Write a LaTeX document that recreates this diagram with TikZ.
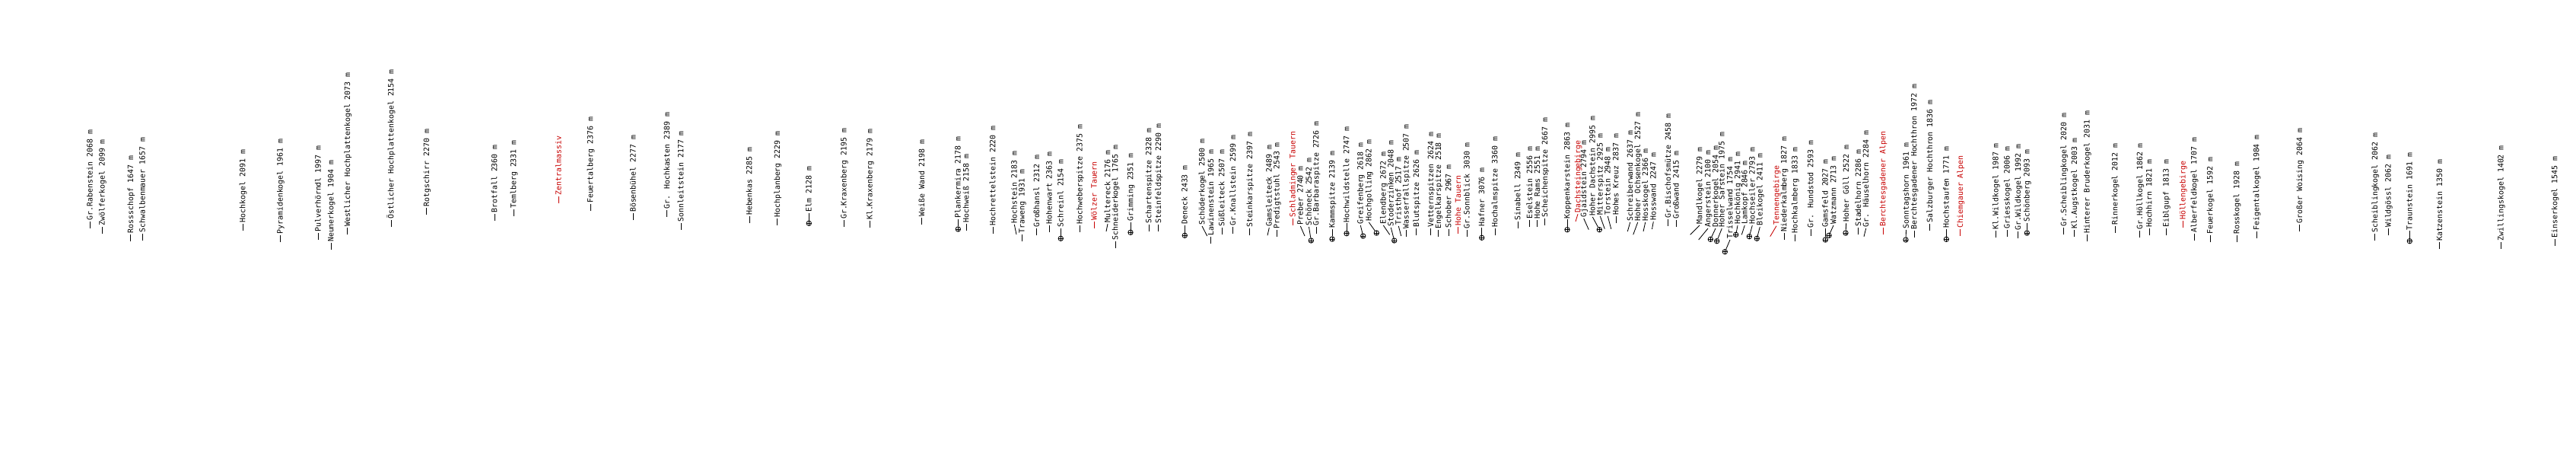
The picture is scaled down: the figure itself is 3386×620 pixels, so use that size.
\documentclass[tikz,border=0pt]{standalone}
\usepackage{fontspec}
\newfontfamily\lblfontfam{DejaVu Sans Mono}
\definecolor{rangered}{RGB}{200,0,0}
\begin{document}
\begin{tikzpicture}[x=1pt,y=-1pt,
  lbl/.style={rotate=90, anchor=west, inner xsep=1.2pt, inner ysep=0pt,
    text height=7.2pt, text depth=0.4pt, font=\lblfontfam\fontsize{9.9}{10}\selectfont},
  lead/.style={line width=0.85pt, line cap=butt},
  xhair/.style={circle, draw, line width=0.85pt, minimum size=6.4pt, inner sep=0pt,
    path picture={\draw[line width=0.85pt] (path picture bounding box.north) -- (path picture bounding box.south)
      (path picture bounding box.east) -- (path picture bounding box.west);}}]
\fill[white] (0,0) rectangle (3386,620);
\useasboundingbox (0,0) rectangle (3386,620);
% straight labels: x / peak y / colour / text
\foreach \x/\b/\c/\t [count=\i] in {
118.3/300/black/Gr.Rabenstein 2068 m,
134.3/306.7/black/Zwölferkogel 2099 m,
171.7/316.7/black/Rossschopf 1647 m,
187.3/316/black/Schwalbenmauer 1657 m,
319/302.7/black/Hochkogel 2091 m,
368.3/318/black/Pyramidenkogel 1961 m,
418.3/315/black/Pulverhörndl 1997 m,
435/328.3/black/Neunerkogel 1904 m,
456.7/308.3/black/Westlicher Hochplattenkogel 2073 m,
514/298.3/black/Östlicher Hochplattenkogel 2154 m,
560.7/281.7/black/Rotgschirr 2270 m,
650/290/black/Brotfall 2360 m,
675/284/black/Temlberg 2331 m,
734.3/266.7/rangered/Zentralmassiv,
776/277.3/black/Feuertalberg 2376 m,
832.3/289.3/black/Bösenbühel 2277 m,
876.7/285/black/Gr. Hochkasten 2389 m,
895/301.7/black/Sonnleitstein 2177 m,
985/293.3/black/Hebenkas 2285 m,
1021.7/296/black/Hochplanberg 2229 m,
1109.3/298.3/black/Gr.Kraxenberg 2195 m,
1143.3/299.3/black/Kl.Kraxenberg 2179 m,
1211.7/295/black/Weiße Wand 2198 m,
1270/302.7/black/Hochweiß 2158 m,
1305/306.7/black/Hochrettelstein 2220 m,
1343.3/316.7/black/Traweng 1931 m,
1362.7/309.3/black/Großhansl 2312 m,
1379.3/305/black/Hohenwart 2363 m,
1419.3/305/black/Hochweberspitze 2375 m,
1438.3/300/rangered/Wölzer Tauern,
1466/326/black/Schneiderkogel 1765 m,
1510/304/black/Schartenspitze 2328 m,
1522.7/304/black/Steinfeldspitze 2290 m,
1591.7/320/black/Lawinenstein 1965 m,
1606/308.3/black/Süßleiteck 2507 m,
1620.7/306.7/black/Gr.Knallstein 2599 m,
1642.7/309.3/black/Steinkarspitze 2397 m,
1678.3/310.7/black/Predigtstuhl 2543 m,
1699.3/296/rangered/Schladminger Tauern,
1730/306.7/black/Gr.Barbaraspitze 2726 m,
1848.3/310.7/black/Wasserfallspitze 2507 m,
1861.7/309.3/black/Blutspitze 2626 m,
1880.7/309.3/black/Vetternspitzen 2624 m,
1890.7/310.7/black/Engelkarspitze 2518 m,
1904/310/black/Schober 2967 m,
1916.7/306.7/rangered/Hohe Tauern,
1928.3/310.7/black/Gr.Sonnblick 3030 m,
1965/309.3/black/Hochalmspitze 3360 m,
1995/300/black/Sinabell 2349 m,
2010.7/298.3/black/Eselstein 2556 m,
2020.7/298.3/black/Hohe Rams 2551 m,
2030.7/296/black/Scheichenspitze 2667 m,
2124/293.3/black/Hohes Kreuz 2837 m,
2192.7/296.7/black/Gr.Bischofsmütze 2458 m,
2203.3/298.3/black/Großwand 2415 m,
2345/315/black/Niederkalmberg 1827 m,
2359.3/316.7/black/Hochkalmberg 1833 m,
2380/310/black/Gr. Hundstod 2593 m,
2442.7/308.3/black/Stadelhorn 2286 m,
2475/308.3/rangered/Berchtesgadener Alpen,
2516/311.7/black/Berchtesgadener Hochthron 1972 m,
2536.7/302.7/black/Salzburger Hochthron 1836 m,
2576.7/310/rangered/Chiemgauer Alpen,
2623.3/311.7/black/Kl.Wildkogel 1987 m,
2638.3/310.7/black/Griesskogel 2006 m,
2652.7/313.3/black/Gr.Wildkogel 1992 m,
2712.7/308.3/black/Gr.Scheiblingkogel 2020 m,
2726.7/310.7/black/Kl.Augstkogel 2003 m,
2743.3/317.3/black/Hinterer Bruderkogel 2031 m,
2780/306/black/Rinnerkogel 2012 m,
2812.7/311.7/black/Gr.Höllkogel 1862 m,
2825/309.3/black/Hochhirn 1821 m,
2847.3/309.3/black/Eiblgupf 1813 m,
2869.3/299.3/rangered/Höllengebirge,
2884/316/black/Alberfeldkogel 1707 m,
2905/318.3/black/Feuerkogel 1592 m,
2940/318.3/black/Rosskogel 1928 m,
2966/312.7/black/Feigentalkogel 1984 m,
3022.7/304/black/Großer Woising 2064 m,
3121.7/316/black/Scheiblingkogel 2062 m,
3139.3/309.3/black/Wildgössl 2062 m,
3206.7/327.3/black/Katzenstein 1350 m,
3287.3/326.7/black/Zwillingskogel 1402 m,
3358/323/black/Einserkogel 1545 m}
{
  \coordinate (sp\i) at (\x,\b);
  \node[lbl, text=\c] (sl\i) at (\x,\b-9) {\t};
  \draw[lead, draw=\c] (sp\i) -- (sl\i.west);
}
% slanted labels without marker: text x / text start y / peak x / peak y / colour / text
\foreach \x/\y/\px/\py/\c/\t [count=\i] in {
1333.3/295/1336/308/black/Hochstein 2183 m,
1456/294/1454/304/black/Multereck 2176 m,
1580/297/1586.7/310/black/Schöderkogel 2500 m,
1668.3/299/1666/309.3/black/Gamsleiteck 2489 m,
1709.3/297/1715/310/black/Preber 2740 m,
1818.3/296/1826.7/308.3/black/Elendberg 2672 m,
1838.3/297/1841.7/310/black/Tristhof 2517 m,
2074/281/2071/291/rangered/Dachsteingebirge,
2081.7/287/2088.3/301.7/black/Gjaidstein 2794 m,
2103.3/284/2109.3/300.7/black/Mitterspitz 2925 m,
2113.3/284/2117.7/300.7/black/Torstein 2948 m,
2142.7/292/2139.3/304/black/Schreiberwand 2637 m,
2152.7/292/2146.7/308.3/black/Hoher Ochsenkogel 2527 m,
2162.7/292/2160/304/black/Hosskogel 2366 m,
2173.3/291/2171.5/301/black/Hosswand 2247 m,
2234/296/2221.7/308.3/black/Mandlkogel 2279 m,
2245/300/2232.7/315/black/Angerstein 2100 m,
2293.3/296/2289.3/308.3/black/Lamkopf 2846 m,
2335/296.7/2326.7/310.7/rangered/Tennengebirge,
2452.7/300/2450/310.7/black/Gr. Häuselhorn 2284 m}
{
  \coordinate (tp\i) at (\px,\py);
  \node[lbl, text=\c] (tl\i) at (\x,\y) {\t};
  \draw[lead, draw=\c] (tp\i) -- (tl\i.west);
}
% labels with summit marker: text x / text start y / peak x / peak y / text
\foreach \x/\y/\px/\py/\t [count=\i] in {
1063.3/280/1063.3/293.3/Elm 2128 m,
1259.3/288/1259.3/301/Plankermira 2178 m,
1394.3/300/1394.3/313.3/Schreinl 2154 m,
1486/292/1486/305.3/Grimming 2351 m,
1557.3/296/1557.3/309.3/Deneck 2433 m,
1720.5/298/1723.3/316/Schöneck 2542 m,
1751/301/1751/314/Kammspitze 2139 m,
1770/293.5/1770/306.7/Hochwildstelle 2747 m,
1788.3/296/1791.7/310/Greifenberg 2618 m,
1799.3/292/1809.3/306/Hochgolling 2862 m,
1828.3/299/1832.7/316/Stoderzinken 2048 m,
1947.7/299/1947.7/312.3/Hafner 3076 m,
2060/288.5/2060/301.7/Koppenkarstein 2863 m,
2093.3/285/2102.3/301.7/Hoher Dachstein 2995 m,
2255/300/2248.3/314.3/Donnerkogel 2054 m,
2263.3/300/2256.7/316.7/Hoher Sarstein 1975 m,
2274/315/2267.3/330.7/Trisselwand 1754 m,
2284/296/2281.7/308.3/Hochkönig 2941 m,
2303.3/296/2299.3/310.7/Hochseiler 2793 m,
2313.3/298/2309.3/313.3/Bleikogel 2411 m,
2399.3/300/2399.3/315/Gamsfeld 2027 m,
2410/296/2404/309.3/Watzmann 2713 m,
2426.7/293/2426/306/Hoher Göll 2522 m,
2505.5/302/2505/315/Sonntagshorn 1961 m,
2558.3/301/2558.3/314.3/Hochstaufen 1771 m,
2664.3/293/2664.3/306/Schönberg 2093 m,
3167.3/303.5/3167.3/316.7/Traunstein 1691 m}
{
  \node[xhair] (mk\i) at (\px,\py) {};
  \node[lbl] (ml\i) at (\x,\y) {\t};
  \draw[lead] (mk\i) -- (ml\i.west);
}
\end{tikzpicture}
\end{document}
